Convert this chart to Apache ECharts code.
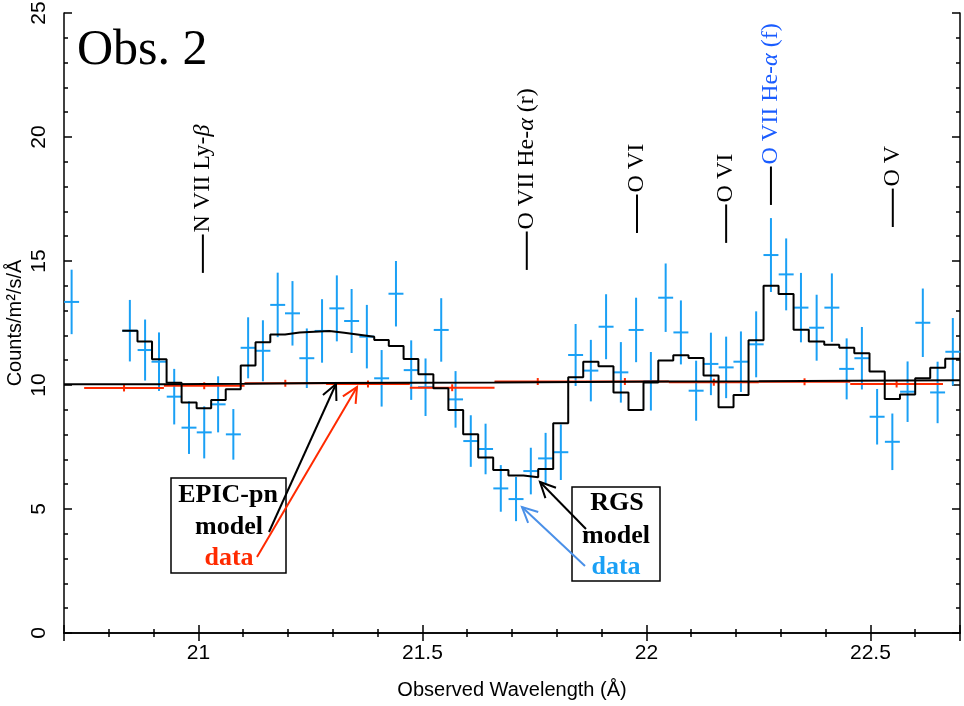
<!DOCTYPE html>
<html>
<head>
<meta charset="utf-8">
<script src="https://cdn.jsdelivr.net/npm/echarts@6/dist/echarts.min.js"></script>
<style>
html, body { margin: 0; padding: 0; background: #fff; }
#main { width: 964px; height: 706px; }
</style>
</head>
<body>
<div id="main"></div>
<script>
// RGS spectrum (blue crosses): bin centre (Å), flux, 1-sigma error
const rgsWave = [20.717, 20.847, 20.881, 20.912, 20.946, 20.979, 21.013, 21.044, 21.078, 21.111,
  21.144, 21.177, 21.210, 21.242, 21.276, 21.309, 21.342, 21.376, 21.409, 21.441,
  21.475, 21.507, 21.542, 21.574, 21.608, 21.641, 21.675, 21.709, 21.742, 21.775,
  21.809, 21.842, 21.876, 21.910, 21.943, 21.977, 22.010, 22.043, 22.077, 22.111,
  22.144, 22.178, 22.211, 22.245, 22.278, 22.312, 22.345, 22.380, 22.414, 22.447,
  22.481, 22.515, 22.549, 22.583, 22.617, 22.650, 22.684];
const rgsFlux = [13.35, 12.19, 11.41, 10.94, 9.53, 8.28, 8.09, 9.22, 8.01, 11.50,
  11.38, 13.23, 12.89, 11.08, 12.18, 13.09, 12.58, 11.95, 10.27, 13.68,
  10.60, 9.91, 12.22, 9.42, 7.74, 7.42, 5.83, 5.40, 6.53, 7.04,
  7.29, 11.21, 10.58, 12.35, 10.51, 12.22, 10.15, 13.52, 12.12, 9.77,
  10.85, 10.71, 10.94, 11.64, 15.24, 14.46, 13.12, 12.31, 13.12, 10.65,
  11.08, 8.72, 7.71, 9.73, 12.51, 9.70, 11.34];
const rgsErr = [1.30, 1.24, 1.23, 1.18, 1.12, 1.06, 1.05, 1.13, 1.02, 1.23,
  1.23, 1.30, 1.30, 1.20, 1.28, 1.33, 1.29, 1.28, 1.14, 1.32,
  1.20, 1.16, 1.28, 1.14, 1.04, 1.02, 0.94, 0.89, 0.94, 1.03,
  1.12, 1.25, 1.24, 1.31, 1.22, 1.30, 1.18, 1.38, 1.29, 1.21,
  1.26, 1.24, 1.22, 1.33, 1.49, 1.45, 1.40, 1.33, 1.38, 1.23,
  1.26, 1.12, 1.14, 1.22, 1.38, 1.24, 1.36];
// RGS model per bin (null = no model)
const rgsModel = [null, 12.19, 11.75, 11.04, 10.09, 9.29, 9.06, 9.40, 9.83, 10.79,
  11.72, 12.04, 12.12, 12.15, 12.18, 12.11, 12.03, 11.95, 11.81, 11.57,
  11.05, 10.43, 9.87, 8.99, 8.01, 7.08, 6.57, 6.35, 6.28, 6.61,
  8.46, 10.31, 10.94, 10.76, 9.70, 8.99, 10.10, 10.99, 11.20, 11.09,
  10.38, 9.10, 9.60, 11.80, 14.00, 13.67, 12.23, 11.75, 11.62, 11.50,
  11.28, 10.54, 9.44, 9.62, 10.27, 10.70, 11.06];
const rgsHalfBin = 0.0167;

// EPIC-pn spectrum (red): bin edges (Å), flux, error, model
const pnEdges = [20.745, 20.923, 21.103, 21.285, 21.472, 21.661, 21.854, 22.050, 22.251, 22.455, 22.662];
const pnFlux = [9.88, 9.97, 10.07, 10.04, 9.89, 10.14, 10.14, 10.11, 10.13, 10.04];
const pnErr = [0.14, 0.14, 0.14, 0.14, 0.14, 0.14, 0.14, 0.14, 0.14, 0.14];
const pnModel = [10.03, 10.05, 10.08, 10.09, 10.10, 10.12, 10.14, 10.15, 10.17, 10.19];

// line identifications
const ionWave = [21.010, 21.733, 21.979, 22.178, 22.278, 22.550];
const ionNames = ['N VII Ly-{g|β}', 'O VII He-{g|α} (r)', 'O VI', 'O VI', 'O VII He-{g|α} (f)', 'O V'];
const ionBase = [14.52, 14.64, 16.13, 15.73, 17.26, 16.37];
const ionColor = ['#000', '#000', '#000', '#000', '#1a5cff', '#000'];

const X_MIN = 20.7, X_MAX = 22.7;
const BLUE = '#1aa0f5', RED = '#ff2a00';

// build step outlines
function rgsStep() {
  const idx = [];
  rgsModel.forEach((v, i) => { if (v !== null) idx.push(i); });
  const pts = [];
  idx.forEach((i, k) => {
    const c = rgsWave[i];
    const prev = k > 0 ? rgsWave[idx[k - 1]] : c - (rgsWave[idx[k + 1]] - c);
    const next = k < idx.length - 1 ? rgsWave[idx[k + 1]] : c + (c - rgsWave[idx[k - 1]]);
    const lo = (prev + c) / 2, hi = Math.min((c + next) / 2, X_MAX);
    pts.push([lo, rgsModel[i]], [hi, rgsModel[i]]);
  });
  return pts;
}
function pnStep() {
  const pts = [];
  pnModel.forEach((v, i) => {
    const lo = i === 0 ? X_MIN : pnEdges[i];
    const hi = i === pnModel.length - 1 ? X_MAX : pnEdges[i + 1];
    pts.push([lo, v], [hi, v]);
  });
  return pts;
}

const rgsData = rgsWave.map((x, i) => [x, rgsFlux[i], rgsErr[i]]);
const pnData = pnFlux.map((y, i) => [pnEdges[i], pnEdges[i + 1], y, pnErr[i]]);
const ionData = ionWave.map((x, i) => [x, ionBase[i], i]);

const chart = echarts.init(document.getElementById('main'));

const tickStyle = { color: '#000', width: 1.5 };
const labelFont = "'Liberation Sans Narrow', 'Liberation Sans', Arial, sans-serif";
const serif = "'Liberation Serif', 'Times New Roman', serif";

function arrow(x1, y1, x2, y2, color) {
  const a = Math.atan2(y2 - y1, x2 - x1), L = 17, w = 0.45;
  return [
    { type: 'line', z: 100, shape: { x1, y1, x2, y2 }, style: { stroke: color, lineWidth: 2 } },
    { type: 'polyline', z: 100, shape: { points: [
      [x2 - L * Math.cos(a - w), y2 - L * Math.sin(a - w)], [x2, y2],
      [x2 - L * Math.cos(a + w), y2 - L * Math.sin(a + w)]] },
      style: { stroke: color, lineWidth: 2, fill: null } }
  ];
}
function boxText(text, x, y, color) {
  return { type: 'text', z: 100, style: { text, x, y, fill: color, align: 'center', verticalAlign: 'middle',
    font: "bold 26px " + serif } };
}
// frame axes with ticks pointing into the plot box
function frameAxis(pos, extra) {
  return Object.assign({
    type: 'value', position: pos,
    axisLine: { lineStyle: { color: '#000', width: 1.5 } },
    axisTick: { inside: true, length: 8, lineStyle: tickStyle },
    minorTick: { show: true, splitNumber: 5, length: 4, lineStyle: tickStyle },
    splitLine: { show: false }
  }, extra);
}

const option = {
  animation: false,
  backgroundColor: '#fff',
  grid: { left: 64, right: 4, top: 13, bottom: 73, outerBoundsMode: 'none', containLabel: false },
  xAxis: [
    frameAxis('bottom', {
      min: X_MIN, max: X_MAX, splitNumber: 4,
      name: 'Observed Wavelength (Å)', nameLocation: 'middle', nameGap: 47,
      nameTextStyle: { fontFamily: labelFont, fontSize: 20, color: '#000' },
      axisLabel: { margin: 10, fontFamily: labelFont, fontSize: 21, color: '#000',
        showMinLabel: false, showMaxLabel: false }
    }),
    frameAxis('top', { min: X_MIN, max: X_MAX, splitNumber: 4, axisLabel: { show: false } })
  ],
  yAxis: [
    frameAxis('left', {
      min: 0, max: 25, interval: 5,
      name: 'Counts/m²/s/Å', nameLocation: 'middle', nameGap: 39, nameRotate: 90,
      nameMoveOverlap: false,
      nameTextStyle: { fontFamily: labelFont, fontSize: 20, color: '#000' },
      axisLabel: { rotate: 90, margin: 14, fontFamily: labelFont, fontSize: 21, color: '#000' }
    }),
    frameAxis('right', { min: 0, max: 25, interval: 5, axisLabel: { show: false } })
  ],
  series: [
    {
      name: 'RGS data', type: 'custom', data: rgsData, z: 2,
      renderItem(params, api) {
        const x = api.value(0), y = api.value(1), e = api.value(2);
        const top = api.coord([x, y + e]), bot = api.coord([x, y - e]);
        const l = api.coord([x - rgsHalfBin, y]), r = api.coord([x + rgsHalfBin, y]);
        const st = { stroke: BLUE, lineWidth: 2 };
        return { type: 'group', children: [
          { type: 'line', shape: { x1: top[0], y1: top[1], x2: bot[0], y2: bot[1] }, style: st },
          { type: 'line', shape: { x1: l[0], y1: l[1], x2: r[0], y2: r[1] }, style: st }
        ] };
      }
    },
    {
      name: 'EPIC-pn data', type: 'custom', data: pnData, z: 3,
      renderItem(params, api) {
        const lo = api.value(0), hi = api.value(1), y = api.value(2), e = api.value(3);
        const c = (lo + hi) / 2;
        const l = api.coord([lo, y]), r = api.coord([hi, y]);
        const t = api.coord([c, y + e]), b = api.coord([c, y - e]);
        const st = { stroke: RED, lineWidth: 2 };
        return { type: 'group', children: [
          { type: 'line', shape: { x1: l[0], y1: l[1], x2: r[0], y2: r[1] }, style: st },
          { type: 'line', shape: { x1: t[0], y1: t[1], x2: b[0], y2: b[1] }, style: st }
        ] };
      }
    },
    {
      name: 'EPIC-pn model', type: 'line', data: pnStep(), z: 4,
      symbol: 'none', lineStyle: { color: '#000', width: 2 }
    },
    {
      name: 'RGS model', type: 'line', data: rgsStep(), z: 5,
      symbol: 'none', lineStyle: { color: '#000', width: 2 }
    },
    {
      name: 'lines', type: 'custom', data: ionData, z: 6,
      renderItem(params, api) {
        const x = api.value(0), y = api.value(1), i = api.value(2);
        const b = api.coord([x, y]), t = api.coord([x, y + 1.55]);
        return { type: 'group', children: [
          { type: 'line', shape: { x1: b[0], y1: b[1], x2: t[0], y2: t[1] }, style: { stroke: '#000', lineWidth: 2 } },
          { type: 'text', x: t[0], y: t[1] - 2, rotation: Math.PI / 2,
            style: { x: 0, y: 0, text: ionNames[i], fill: ionColor[i], align: 'left', verticalAlign: 'middle',
              font: '24px ' + serif,
              rich: { g: { fontStyle: 'italic', fontSize: 24, fontFamily: serif, fill: ionColor[i] } } } }
        ] };
      }
    }
  ],
  graphic: [
    { type: 'text', z: 100, style: { text: 'Obs. 2', x: 77, y: 26, fill: '#000', font: '50px ' + serif,
      align: 'left', verticalAlign: 'top' } },
    { type: 'rect', z: 99, shape: { x: 171, y: 478, width: 115, height: 95 },
      style: { fill: null, stroke: '#000', lineWidth: 1.5 } },
    boxText('EPIC-pn', 228, 495, '#000'),
    boxText('model', 229, 527, '#000'),
    boxText('data', 229, 558, RED),
    { type: 'rect', z: 99, shape: { x: 572, y: 487, width: 88, height: 94 },
      style: { fill: null, stroke: '#000', lineWidth: 1.5 } },
    boxText('RGS', 617, 503, '#000'),
    boxText('model', 616, 536, '#000'),
    boxText('data', 616, 567, BLUE),
    ...arrow(269, 532, 336, 384, '#000'),
    ...arrow(257, 557, 357, 387, RED),
    ...arrow(586, 529, 540, 482, '#000'),
    ...arrow(585, 566, 522, 507, '#4a90e8')
  ]
};

chart.setOption(option);
</script>
</body>
</html>
